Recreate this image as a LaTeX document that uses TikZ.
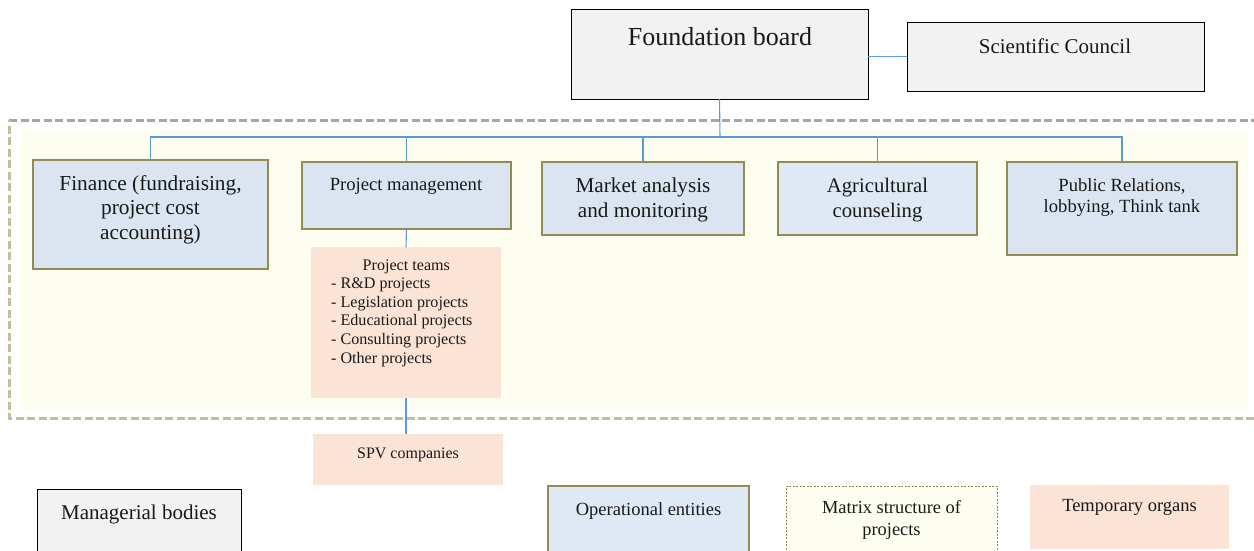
\documentclass[tikz,border=0pt]{standalone}
\usepackage{fontspec}
\setmainfont{Liberation Serif}
\definecolor{mgray}{HTML}{F2F2F2}
\definecolor{opblue}{HTML}{DBE5F1}
\definecolor{opbluelt}{HTML}{DEE9F5}
\definecolor{olivec}{HTML}{948A54}
\definecolor{peach}{HTML}{FBE4D5}
\definecolor{matrixy}{HTML}{FEFEF0}
\definecolor{connblue}{HTML}{5B9BD5}
\definecolor{dgray}{HTML}{A6A6A6}
\definecolor{tanc}{HTML}{C4BD97}
\newcommand{\mytxt}[3]{{\fontsize{#1}{#2}\selectfont\begin{tabular}[t]{@{}c@{}}#3\end{tabular}}}
\tikzset{
  boxbase/.style={inner sep=0pt, outer sep=0pt, anchor=north west},
  mgr/.style={boxbase, fill=mgray, draw=black, line width=1pt},
  opr/.style={boxbase, fill=opblue, draw=olivec, line width=1.5pt},
  oprlt/.style={opr, fill=opbluelt},
  tmp/.style={boxbase, fill=peach},
  mtx/.style={boxbase, fill=matrixy, draw=olivec, line width=0.8pt, dash pattern=on 2pt off 1.5pt},
  lbl/.style={anchor=base, inner sep=0pt, text=black!90},
  conn/.style={draw=connblue, line width=1.1pt},
  framedash/.style={line width=3pt, dash pattern=on 8pt off 3.5pt},
}
\begin{document}
\begin{tikzpicture}[x=1pt, y=-1pt]
\useasboundingbox (0,0) rectangle (1254,550);
% matrix area
\fill[matrixy] (19,130) rectangle (1247,410);
\draw[framedash, dgray] (9,120) -- (1254,120);
\draw[framedash, tanc] (1254,418) -- (9,418) -- (9,120);

% boxes
\node[mgr, minimum width=297pt, minimum height=90pt] (fb) at (571,9) {};
\node[mgr, minimum width=297pt, minimum height=69pt] (sc) at (907,22) {};
\node[opr, minimum width=235pt, minimum height=109pt] (fin) at (33,160) {};
\node[opr, minimum width=209pt, minimum height=67pt] (pm) at (302,162) {};
\node[opr, minimum width=202pt, minimum height=73pt] (ma) at (542,162) {};
\node[oprlt, minimum width=199pt, minimum height=73pt] (ag) at (778,162) {};
\node[opr, minimum width=230pt, minimum height=93pt] (pr) at (1007,162) {};
\node[tmp, minimum width=190pt, minimum height=151pt] (teams) at (311,247) {};
\node[tmp, minimum width=190pt, minimum height=51pt] (spv) at (313,434) {};
% legend
\node[mgr, minimum width=204pt, minimum height=80pt] (lmgr) at (37,489) {};
\node[oprlt, minimum width=201pt, minimum height=80pt] (lopr) at (548,486) {};
\node[mtx, minimum width=211pt, minimum height=80pt] (lmtx) at (786,486) {};
\node[tmp, minimum width=199pt, minimum height=64pt] (ltmp) at (1030,485) {};

% connectors
\coordinate (bus) at (720,137);
\draw[conn] (fb.south) -- (bus);
\draw[conn] (fin.north) |- (bus);
\draw[conn] (pm.north) |- (bus);
\draw[conn] (ma.north) |- (bus);
\draw[conn] (ag.north) |- (bus);
\draw[conn] (pr.north) |- (bus);
\draw[conn] (fb.east |- sc.west) -- (sc.west);
\draw[conn] (pm.south) -- (teams.north);
\draw[conn] (teams.south) -- (teams.south |- spv.north);

% labels
\node[lbl] (fbt) at (720,45) {\mytxt{26}{30}{Foundation board}};
\node[lbl] (sct) at (1055,53) {\mytxt{21}{24}{Scientific Council}};
\node[lbl] (fint) at (150.5,190) {\mytxt{21.3}{24.7}{Finance (fundraising,\\project cost\\accounting)}};
\node[lbl] (pmt) at (406,190) {\mytxt{18.6}{21.5}{Project management}};
\node[lbl] (mat) at (643,192) {\mytxt{21.2}{25}{Market analysis\\and monitoring}};
\node[lbl] (agt) at (877.5,192) {\mytxt{20.7}{25}{Agricultural\\counseling}};
\node[lbl] (prt) at (1122,191) {\mytxt{18.6}{21.5}{Public Relations,\\lobbying, Think tank}};
\node[lbl, anchor=base west] (teamst) at (331,270) {{\fontsize{16.1}{18.6}\selectfont\begin{tabular}[t]{@{}l@{}}\multicolumn{1}{@{\hspace{9pt}}c@{}}{Project teams}\\- R\&D projects\\- Legislation projects\\- Educational projects\\- Consulting projects\\- Other projects\end{tabular}}};
\node[lbl] (spvt) at (408,458) {\mytxt{16}{18.6}{SPV companies}};
\node[lbl] (lmgrt) at (139,519) {\mytxt{21}{24}{Managerial bodies}};
\node[lbl] (loprt) at (648.5,515) {\mytxt{18.5}{21.5}{Operational entities}};
\node[lbl] (lmtxt) at (891.5,513) {\mytxt{18.4}{22}{Matrix structure of\\projects}};
\node[lbl] (ltmpt) at (1129.5,511) {\mytxt{18.5}{21.5}{Temporary organs}};
\end{tikzpicture}
\end{document}
